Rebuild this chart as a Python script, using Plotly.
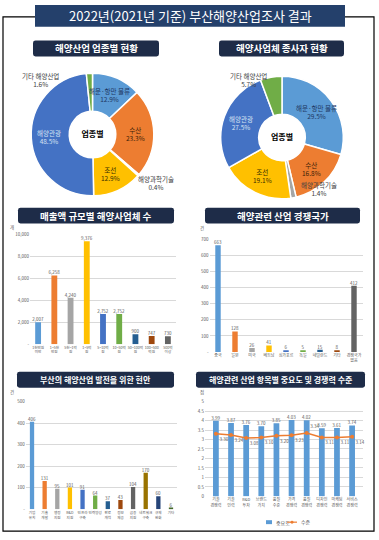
import math
import plotly.graph_objects as go

W, H = 379, 540
def X(p): return p / W
def Y(p): return 1 - p / H

FONT = "Noto Sans CJK KR"

# ---------------- data ----------------
pie_labels = ["해운·항만 물류", "수산", "해양과학기술", "조선", "해양관광", "기타 해양산업"]
pie_colors = ["#5B9BD5", "#ED7D31", "#A5A5A5", "#FFC000", "#4472C4", "#70AD47"]
biz_share = [12.9, 23.3, 0.4, 12.9, 48.5, 1.6]
emp_share = [29.5, 16.8, 1.4, 19.1, 27.5, 5.7]

sales_cats = ["1천만원<br>미만", "1~5천<br>만원", "5천~1억<br>원", "1~5억<br>원", "5~10억<br>원",
              "10~50억<br>원", "50~100억<br>원", "100~500<br>억원", "500억<br>이상"]
sales_vals = [2007, 6258, 4240, 9376, 2752, 2752, 900, 747, 730]

rival_cats = ["중국", "일본", "미국", "베트남", "싱가포르", "독일", "네덜란드", "기타", "경쟁국가<br>없음"]
rival_vals = [663, 128, 26, 41, 6, 5, 15, 8, 412]

issue_cats = ["기업<br>유치", "기술<br>개발", "행정<br>지원", "R&D<br>지원", "인프라<br>구축", "인력양성",
              "판로<br>개척", "정보<br>제공", "금융<br>지원", "네트워크<br>구축",
              "규제<br>완화", "기타"]
issue_vals = [406, 131, 95, 101, 91, 64, 37, 43, 104, 170, 60, 6]

item_cats = ["기술<br>경쟁력", "기술<br>인력", "R&D<br>투자", "브랜드<br>가치", "품질<br>수준",
             "가격<br>경쟁력", "품질<br>경쟁력", "디자인<br>경쟁력", "마케팅<br>경쟁력", "서비스<br>경쟁력"]
importance = [3.99, 3.87, 3.76, 3.70, 3.85, 4.03, 4.02, 3.59, 3.61, 3.74]
level = [3.30, 3.24, 3.08, 3.10, 3.20, 3.23, 3.34, 3.11, 3.11, 3.14]
series_names = ["중요도", "수준"]

office = ["#5B9BD5", "#ED7D31", "#A5A5A5", "#FFC000", "#4472C4", "#70AD47",
          "#255E91", "#9E480E", "#636363", "#997300", "#264478", "#43682B"]

# ---------------- figure ----------------
fig = go.Figure()
ann = []

pie_text_colors = ["#1F3864", "#3B1E08", "#404040", "#3B2E00", "#D6E2F3", "#404040"]
inside_idx = [0, 1, 3, 4]

def add_pie(vals, cx, cy, r):
    fig.add_trace(go.Pie(
        values=vals, labels=pie_labels, sort=False, direction="clockwise", rotation=0,
        hole=0.38, showlegend=False, hoverinfo="skip", textinfo="none",
        marker=dict(colors=pie_colors, line=dict(color="white", width=1.5)),
        domain=dict(x=[X(cx - r), X(cx + r)], y=[Y(cy + r), Y(cy - r)]),
        title=dict(text="<b>업종별</b>", position="middle center",
                   font=dict(size=8, color="black", family=FONT)),
    ))
    total = sum(vals)
    cum = 0
    rr = r * 0.70
    for i, v in enumerate(vals):
        mid = 2 * math.pi * (cum + v / 2) / total
        cum += v
        if i not in inside_idx:
            continue
        x = cx + rr * math.sin(mid)
        y = cy - rr * math.cos(mid)
        ann.append(dict(text=f"{pie_labels[i]}<br>{v:.1f}%", x=X(x), y=Y(y),
                        xref="paper", yref="paper", showarrow=False,
                        xanchor="center", yanchor="middle", align="center",
                        font=dict(size=6.5, color=pie_text_colors[i], family=FONT)))

add_pie(biz_share, 92.5, 133, 62)
add_pie(emp_share, 282, 136, 62)

TICKC = "#595959"
def bar(cats, vals, colors, xa, ya, width, tmpl, name=None, clip=False):
    fig.add_trace(go.Bar(
        x=cats, y=vals, marker=dict(color=colors, line=dict(width=0)), width=width,
        xaxis=xa, yaxis=ya, texttemplate=tmpl, textposition="outside",
        constraintext="none", textangle=0, cliponaxis=clip,
        textfont=dict(size=4.5, color=TICKC, family=FONT),
        showlegend=False, name=name, hoverinfo="skip"))

bar(sales_cats, sales_vals, office[:9], "x", "y", 0.36, "%{y:,}")
bar(rival_cats, rival_vals, office[:9], "x2", "y2", 0.32, "%{y}")
bar(issue_cats, issue_vals, office[:12], "x3", "y3", 0.34, "%{y}")
bar(item_cats, importance, "#5B9BD5", "x4", "y4", 0.38, "%{y:.2f}", name=series_names[0], clip=True)

lvl_pos = ["bottom right"] * len(level)
lvl_pos[6] = "top right"
fig.add_trace(go.Scatter(
    x=item_cats, y=level, xaxis="x4", yaxis="y4", mode="lines+markers+text",
    line=dict(color="#ED7D31", width=1.5), marker=dict(size=4, color="#ED7D31"),
    text=[f"{v:.2f}" for v in level], textposition=lvl_pos, cliponaxis=False,
    textfont=dict(size=4.5, color=TICKC, family=FONT), name=series_names[1],
    showlegend=False, hoverinfo="skip"))

def xax(x0, x1, anchor, fs=4):
    return dict(domain=[X(x0), X(x1)], anchor=anchor, type="category",
                showgrid=False, showline=False, ticks="", zeroline=False, tickangle=0,
                tickfont=dict(size=fs, color=TICKC, family=FONT), fixedrange=True)

def yax(y0, y1, anchor, rng, vals, texts):
    return dict(domain=[Y(y1), Y(y0)], anchor=anchor, range=rng,
                tickvals=vals, ticktext=texts, showgrid=True, gridcolor="#D9D9D9",
                gridwidth=0.6, zeroline=False, showline=False, ticks="",
                tickfont=dict(size=4.5, color=TICKC, family=FONT), fixedrange=True)

t3 = [0, 2000, 4000, 6000, 8000, 10000]
t4 = [0, 100, 200, 300, 400, 500, 600, 700]
t5 = [0, 100, 200, 300, 400, 500]
t6 = [i * 0.5 for i in range(11)]

fig.update_layout(
    xaxis=xax(30, 176, "y", 3.6),
    yaxis=yax(234, 345, "x", [0, 10000], t3, ["-"] + [f"{v:,}" for v in t3[1:]]),
    xaxis2=xax(209.5, 362.5, "y2", 4),
    yaxis2=yax(239, 353, "x2", [0, 700], t4, ["-"] + [str(v) for v in t4[1:]]),
    xaxis3=xax(25.7, 177.3, "y3", 3.6),
    yaxis3=yax(403, 512, "x3", [0, 500], t5, ["-"] + [str(v) for v in t5[1:]]),
    xaxis4=xax(205, 363, "y4", 4),
    yaxis4=yax(403, 499, "x4", [0, 5], t6, [f"{v:g}" for v in t6]),
)

# ---------------- decorations ----------------
shapes = []
def rrect(x0, y0, x1, y1, r, color):
    p = (f"M {X(x0+r)},{Y(y0)} L {X(x1-r)},{Y(y0)} Q {X(x1)},{Y(y0)} {X(x1)},{Y(y0+r)} "
         f"L {X(x1)},{Y(y1-r)} Q {X(x1)},{Y(y1)} {X(x1-r)},{Y(y1)} "
         f"L {X(x0+r)},{Y(y1)} Q {X(x0)},{Y(y1)} {X(x0)},{Y(y1-r)} "
         f"L {X(x0)},{Y(y0+r)} Q {X(x0)},{Y(y0)} {X(x0+r)},{Y(y0)} Z")
    shapes.append(dict(type="path", path=p, xref="paper", yref="paper",
                       fillcolor=color, line=dict(width=0), layer="below"))

frame = (f"M {X(35)},{Y(14)} L {X(3)},{Y(14)} L {X(3)},{Y(534)} L {X(374)},{Y(534)} "
         f"L {X(374)},{Y(14)} L {X(345)},{Y(14)}")
shapes.append(dict(type="path", path=frame, xref="paper", yref="paper",
                   line=dict(color="black", width=1.2), layer="below"))
shapes.append(dict(type="rect", xref="paper", yref="paper", x0=X(35), x1=X(345),
                   y0=Y(24), y1=Y(2), fillcolor="#24406B", line=dict(width=0), layer="below"))

panel_titles = [
    ("해양산업 업종별 현황", 33, 38, 159, 54),
    ("해양사업체 종사자 현황", 219, 38, 344, 54),
    ("매출액 규모별 해양사업체 수", 18, 207, 174, 223),
    ("해양관련 산업 경쟁국가", 205, 207, 360, 223),
    ("부산의 해양산업 발전을 위한 현안", 17, 373, 174, 389),
    ("해양관련 산업 항목별 중요도 및 경쟁력 수준", 196, 373, 365, 389),
]
ann.append(dict(text="2022년(2021년 기준) 부산해양산업조사 결과", x=X(190), y=Y(13),
                xref="paper", yref="paper", showarrow=False, xanchor="center", yanchor="middle",
                font=dict(size=13, color="white", family=FONT)))
for t, x0, y0, x1, y1 in panel_titles:
    rrect(x0, y0, x1, y1, 2.5, "#1E2C48")
    ann.append(dict(text=f"<b>{t}</b>", x=X((x0 + x1) / 2), y=Y((y0 + y1) / 2),
                    xref="paper", yref="paper", showarrow=False,
                    xanchor="center", yanchor="middle",
                    font=dict(size=9.5 if len(t) < 18 else 8, color="white", family=FONT)))

def pie_note(i, vals, x, y):
    ann.append(dict(text=f"{pie_labels[i]}<br>{vals[i]}%", x=X(x), y=Y(y), xref="paper",
                    yref="paper", showarrow=False, align="center",
                    xanchor="center", yanchor="middle",
                    font=dict(size=6.5, color="#404040", family=FONT)))
pie_note(5, biz_share, 40, 78)
pie_note(2, biz_share, 156, 182)
pie_note(5, emp_share, 248, 78)
pie_note(2, emp_share, 319, 188)

for u, x, y in [("개", 12, 227), ("건", 202, 228), ("건", 12, 393), ("점", 202, 393)]:
    ann.append(dict(text=u, x=X(x), y=Y(y), xref="paper", yref="paper", showarrow=False,
                    xanchor="center", yanchor="middle",
                    font=dict(size=4.5, color=TICKC, family=FONT)))

# compact legend for the importance / level chart
LY = 525
shapes.append(dict(type="rect", xref="paper", yref="paper", x0=X(266), x1=X(272),
                   y0=Y(LY + 2), y1=Y(LY - 2), fillcolor="#5B9BD5", line=dict(width=0)))
ann.append(dict(text=series_names[0], x=X(273.5), y=Y(LY), xref="paper", yref="paper",
                showarrow=False, xanchor="left", yanchor="middle",
                font=dict(size=5, color=TICKC, family=FONT)))
shapes.append(dict(type="line", xref="paper", yref="paper", x0=X(287), x1=X(297),
                   y0=Y(LY), y1=Y(LY), line=dict(color="#ED7D31", width=1.2)))
shapes.append(dict(type="circle", xref="paper", yref="paper", x0=X(290.5), x1=X(293.5),
                   y0=Y(LY + 1.5), y1=Y(LY - 1.5), fillcolor="#ED7D31", line=dict(width=0)))
ann.append(dict(text=series_names[1], x=X(298.5), y=Y(LY), xref="paper", yref="paper",
                showarrow=False, xanchor="left", yanchor="middle",
                font=dict(size=5, color=TICKC, family=FONT)))

fig.update_layout(
    width=W, height=H, margin=dict(l=0, r=0, t=0, b=0),
    paper_bgcolor="white", plot_bgcolor="white",
    font=dict(family=FONT, color=TICKC),
    shapes=shapes, annotations=ann, showlegend=False,
)

fig.write_html("out.html", config={"displayModeBar": False},
               post_script="document.body.style.margin='0';")
